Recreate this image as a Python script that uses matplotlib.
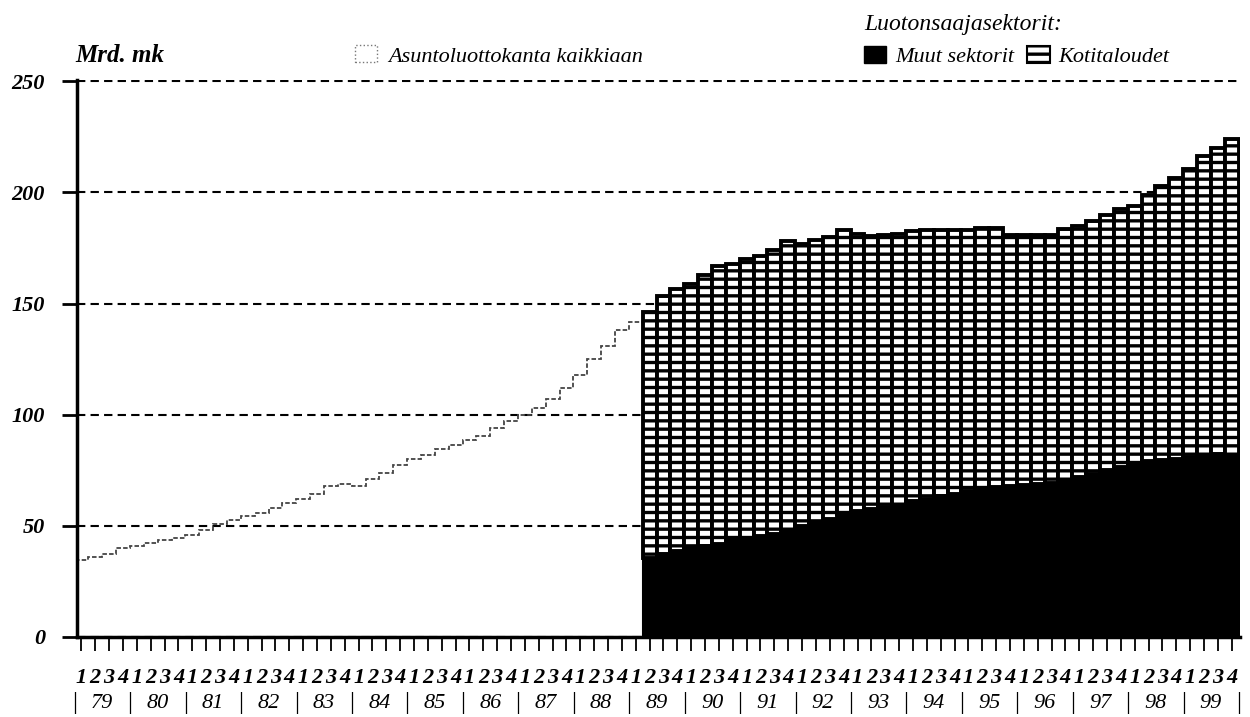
import matplotlib.pyplot as plt
import numpy as np
from matplotlib.patches import Patch
from matplotlib.transforms import blended_transform_factory


YEARS = ["79", "80", "81", "82", "83", "84", "85", "86", "87", "88", "89",
         "90", "91", "92", "93", "94", "95", "96", "97", "98", "99"]
QUARTERS = ["1", "2", "3", "4"]

# Asuntoluottokanta kaikkiaan, mrd. mk, 1979/1 - 1989/1
STOCK_TOTAL = [
    34.5, 36.0, 37.5, 40.0,
    41.0, 42.5, 43.5, 44.5,
    46.0, 48.0, 51.0, 52.5,
    54.5, 56.0, 58.0, 60.5,
    62.0, 64.5, 68.0, 69.0,
    68.0, 71.0, 74.0, 77.5,
    80.0, 82.0, 84.5, 86.5,
    88.5, 90.5, 94.0, 97.0,
    100.0, 103.0, 107.0, 112.0,
    118.0, 125.0, 131.0, 138.0,
    141.5,
]

# Luotonsaajasektorit yhteensä, 1989/2 - 1999/4
SECTOR_TOTAL = [
    146.0, 153.5, 156.5,
    159.0, 163.0, 167.0, 168.0,
    170.0, 171.5, 174.0, 178.0,
    177.0, 178.5, 180.0, 183.0,
    181.5, 180.5, 181.0, 181.5,
    182.5, 183.0, 183.0, 183.0,
    183.0, 184.0, 184.0, 181.0,
    181.0, 181.0, 181.0, 183.5,
    185.0, 187.0, 190.0, 192.5,
    194.0, 199.0, 203.0, 206.5,
    210.5, 216.5, 220.0, 224.0,
]

# Muut sektorit, 1989/2 - 1999/4
MUUT_SEKTORIT = [
    35.5, 37.5, 38.5,
    40.0, 41.0, 42.0, 43.5,
    44.5, 45.5, 46.5, 48.0,
    50.0, 51.5, 53.0, 55.5,
    56.5, 57.5, 58.5, 59.5,
    61.0, 62.0, 63.5, 64.5,
    65.5, 66.5, 67.5, 68.0,
    68.5, 69.0, 69.5, 70.5,
    72.0, 73.5, 75.0, 76.5,
    78.0, 79.0, 79.5, 80.0,
    81.0, 82.0, 82.5, 82.0,
]

W, H = 1250, 717

plt.rcParams["font.family"] = ["Liberation Serif", "DejaVu Serif"]
plt.rcParams["font.style"] = "italic"
plt.rcParams["hatch.linewidth"] = 2.4


def main() -> None:
    n_quarters = len(YEARS) * len(QUARTERS)
    stock_x = np.arange(len(STOCK_TOTAL))
    bar_x = np.arange(n_quarters - len(SECTOR_TOTAL), n_quarters)
    muut = np.array(MUUT_SEKTORIT)
    koti = np.array(SECTOR_TOTAL) - muut

    fig = plt.figure(figsize=(W / 100, H / 100), dpi=100)
    ax = fig.add_axes([77 / W, 80 / H, (1240 - 77) / W, 557 / H])

    ax.stairs(STOCK_TOTAL, edges=np.append(stock_x - 0.5, stock_x[-1] + 0.5),
              baseline=None, color="#444444", linewidth=1.3,
              linestyle=(0, (2.5, 1.2)))

    ax.bar(bar_x, muut, width=1.0, color="black", edgecolor="black", linewidth=1.5)
    ax.bar(bar_x, koti, bottom=muut, width=1.0, facecolor="white",
           edgecolor="black", linewidth=2.8, hatch="--")

    ax.set_xlim(-0.32, 83.6)
    ax.set_ylim(0, 250.6)
    ax.set_yticks(range(0, 251, 50))
    ax.set_yticklabels([str(v) for v in range(0, 251, 50)],
                       fontsize=16, fontweight="bold")
    ax.yaxis.grid(True, color="black", linewidth=1.5, linestyle=(0, (4, 2.5)))
    ax.set_axisbelow(True)
    ax.tick_params(axis="y", direction="out", length=11, width=2, pad=12)

    ax.set_xticks(np.arange(n_quarters))
    ax.set_xticklabels([])
    ax.tick_params(axis="x", direction="out", length=10, width=1.3, pad=2)

    for side in ("top", "right"):
        ax.spines[side].set_visible(False)
    ax.spines["left"].set_linewidth(2.5)
    ax.spines["bottom"].set_linewidth(2.5)

    trans = blended_transform_factory(ax.transData, ax.transAxes)
    for i in range(n_quarters):
        ax.text(i, -0.074, QUARTERS[i % 4], transform=trans, ha="center",
                va="center", fontsize=16, fontweight="bold", clip_on=False)
    for k, year in enumerate(YEARS):
        ax.text(4 * k + 1.5, -0.119, year, transform=trans, ha="center",
                va="center", fontsize=16, clip_on=False)
    for k in range(len(YEARS) + 1):
        ax.text(4 * k - 0.5, -0.119, "|", transform=trans, ha="center",
                va="center", fontsize=18, style="normal", clip_on=False)

    fig.text(75 / W, 1 - 56 / H, "Mrd. mk", ha="left", va="center",
             fontsize=18, fontweight="bold")

    stock_handle = Patch(facecolor="white", edgecolor="#777777",
                         linestyle=":", linewidth=1.0)
    fig.legend([stock_handle], ["Asuntoluottokanta kaikkiaan"],
               loc="center left", bbox_to_anchor=(355 / W, 1 - 56 / H),
               frameon=False, fontsize=16, handlelength=1.0, handleheight=0.8,
               handletextpad=0.5, borderpad=0, borderaxespad=0)

    sector_handles = [
        Patch(facecolor="black", edgecolor="black"),
        Patch(facecolor="white", edgecolor="black", hatch="--", linewidth=1.5),
    ]
    fig.legend(sector_handles, ["Muut sektorit", "Kotitaloudet"],
               loc="lower left", bbox_to_anchor=(864 / W, 1 - 67 / H),
               ncol=2, frameon=False, fontsize=16, title="Luotonsaajasektorit:",
               title_fontsize=17, alignment="left", handlelength=1.0,
               handleheight=0.8, handletextpad=0.4, columnspacing=0.6,
               borderpad=0, borderaxespad=0)

    fig.savefig("out.png", dpi=100)
    plt.close(fig)


if __name__ == "__main__":
    main()
